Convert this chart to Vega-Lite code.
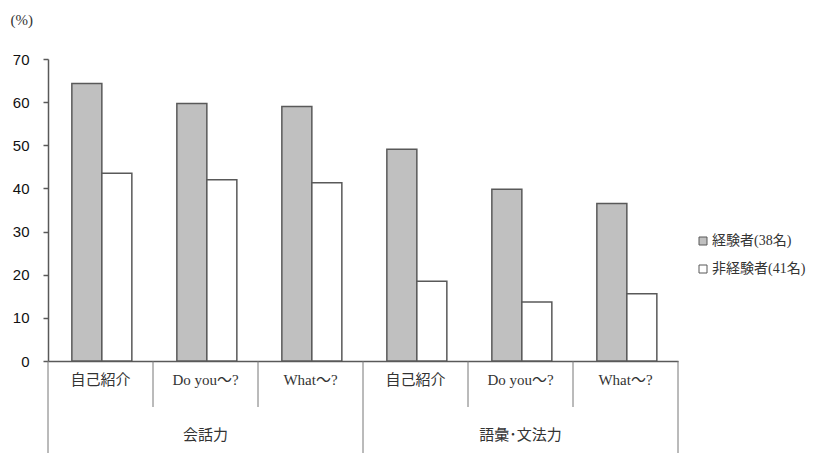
{
  "$schema": "https://vega.github.io/schema/vega-lite/v6.json",
  "padding": {"left": 10, "top": 12, "right": 5, "bottom": 0},
  "spacing": 0,
  "bounds": "flush",
  "config": {
    "view": {"stroke": null},
    "font": "Liberation Serif, Noto Sans CJK JP"
  },
  "datasets": {
    "scores": [
      {"item": "会話力/自己紹介", "respondent": "経験者(38名)", "pct": 64.3},
      {"item": "会話力/自己紹介", "respondent": "非経験者(41名)", "pct": 43.5},
      {"item": "会話力/Do you", "respondent": "経験者(38名)", "pct": 59.7},
      {"item": "会話力/Do you", "respondent": "非経験者(41名)", "pct": 42.0},
      {"item": "会話力/What", "respondent": "経験者(38名)", "pct": 59.0},
      {"item": "会話力/What", "respondent": "非経験者(41名)", "pct": 41.3},
      {"item": "語彙・文法力/自己紹介", "respondent": "経験者(38名)", "pct": 49.1},
      {"item": "語彙・文法力/自己紹介", "respondent": "非経験者(41名)", "pct": 18.5},
      {"item": "語彙・文法力/Do you", "respondent": "経験者(38名)", "pct": 39.8},
      {"item": "語彙・文法力/Do you", "respondent": "非経験者(41名)", "pct": 13.7},
      {"item": "語彙・文法力/What", "respondent": "経験者(38名)", "pct": 36.5},
      {"item": "語彙・文法力/What", "respondent": "非経験者(41名)", "pct": 15.6}
    ],
    "items": [
      {"item": "会話力/自己紹介", "sub": "自己紹介", "last": false},
      {"item": "会話力/Do you", "sub": "Do you～?", "last": false},
      {"item": "会話力/What", "sub": "What～?", "last": false},
      {"item": "語彙・文法力/自己紹介", "sub": "自己紹介", "last": false},
      {"item": "語彙・文法力/Do you", "sub": "Do you～?", "last": false},
      {"item": "語彙・文法力/What", "sub": "What～?", "last": true}
    ],
    "groups": [
      {"group": "会話力", "last": false},
      {"group": "語彙･文法力", "last": true}
    ]
  },
  "vconcat": [
    {
      "width": 630,
      "height": 302,
      "data": {"name": "scores"},
      "mark": {"type": "bar", "stroke": "#595959", "strokeWidth": 1.5},
      "encoding": {
        "x": {
          "field": "item", "type": "nominal", "sort": null,
          "scale": {"paddingInner": 0, "paddingOuter": 0},
          "axis": {"labels": false, "ticks": false, "title": null, "domainColor": "#595959", "domainWidth": 1.5}
        },
        "xOffset": {
          "field": "respondent", "type": "nominal", "sort": null,
          "scale": {"paddingInner": 0, "paddingOuter": 0.75, "align": 0.53}
        },
        "y": {
          "field": "pct", "type": "quantitative",
          "scale": {"domain": [0, 70], "nice": false},
          "axis": {
            "values": [0, 10, 20, 30, 40, 50, 60, 70],
            "grid": false,
            "domainColor": "#595959", "domainWidth": 1.5,
            "tickColor": "#595959", "tickWidth": 1.5, "tickSize": 5,
            "labelFont": "Liberation Sans", "labelFontSize": 15, "labelColor": "#111111", "labelPadding": 14,
            "title": "(%)", "titleAngle": 0, "titleAlign": "left", "titleBaseline": "middle",
            "titleX": -38, "titleY": -40,
            "titleFont": "Liberation Serif", "titleFontSize": 15, "titleFontWeight": "normal", "titleColor": "#333333"
          }
        },
        "fill": {
          "field": "respondent", "type": "nominal", "sort": null,
          "scale": {"range": ["#c0c0c0", "#ffffff"]},
          "legend": {
            "title": null, "orient": "none", "legendX": 648, "legendY": 175,
            "symbolType": "square", "symbolSize": 64,
            "symbolStrokeColor": "#595959", "symbolStrokeWidth": 1,
            "labelFont": "Liberation Serif, Noto Sans CJK JP", "labelFontSize": 14, "labelColor": "#333333",
            "labelOffset": 2, "rowPadding": 14
          }
        }
      }
    },
    {
      "width": 630,
      "height": 46,
      "data": {"name": "items"},
      "encoding": {
        "x": {
          "field": "item", "type": "nominal", "sort": null,
          "scale": {"paddingInner": 0, "paddingOuter": 0},
          "axis": null
        }
      },
      "layer": [
        {
          "mark": {"type": "rule", "color": "#777777", "strokeWidth": 1},
          "encoding": {"x": {"field": "item", "type": "nominal", "sort": null, "bandPosition": 0}}
        },
        {
          "transform": [{"filter": "datum.last"}],
          "mark": {"type": "rule", "color": "#777777", "strokeWidth": 1},
          "encoding": {"x": {"field": "item", "type": "nominal", "sort": null, "bandPosition": 1}}
        },
        {
          "mark": {"type": "text", "fontSize": 15, "color": "#333333", "dy": -4},
          "encoding": {"text": {"field": "sub"}}
        }
      ]
    },
    {
      "width": 630,
      "height": 46,
      "data": {"name": "groups"},
      "encoding": {
        "x": {
          "field": "group", "type": "nominal", "sort": null,
          "scale": {"paddingInner": 0, "paddingOuter": 0},
          "axis": null
        }
      },
      "layer": [
        {
          "mark": {"type": "rule", "color": "#777777", "strokeWidth": 1},
          "encoding": {"x": {"field": "group", "type": "nominal", "sort": null, "bandPosition": 0}}
        },
        {
          "transform": [{"filter": "datum.last"}],
          "mark": {"type": "rule", "color": "#777777", "strokeWidth": 1},
          "encoding": {"x": {"field": "group", "type": "nominal", "sort": null, "bandPosition": 1}}
        },
        {
          "mark": {"type": "text", "fontSize": 15, "color": "#333333", "dy": 5},
          "encoding": {"text": {"field": "group"}}
        }
      ]
    }
  ]
}
